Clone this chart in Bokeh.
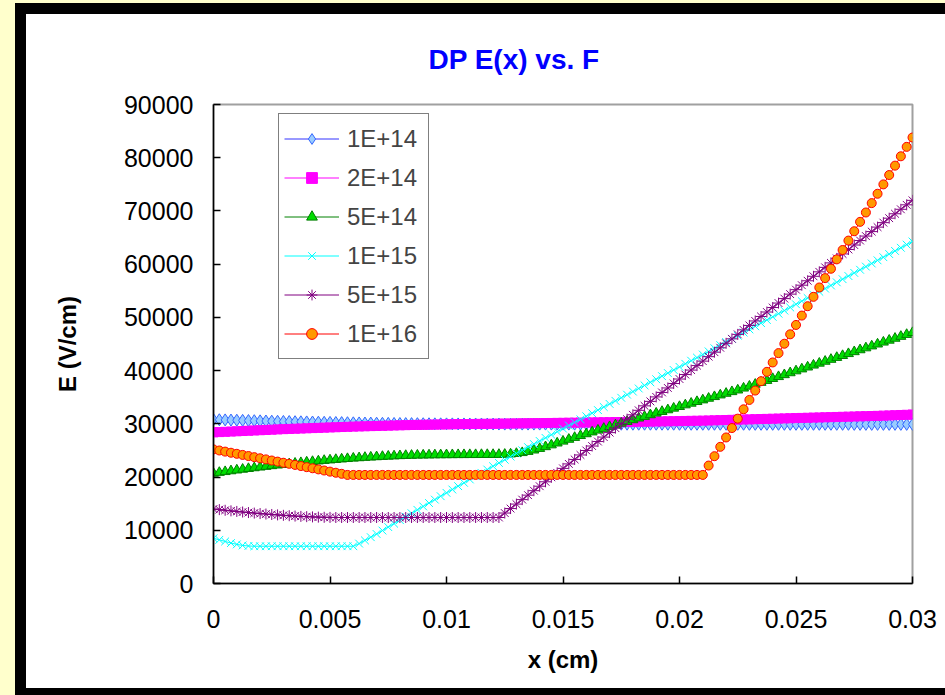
from bokeh.plotting import figure
from bokeh.layouts import row, column
from bokeh.models import Div, FixedTicker, NumeralTickFormatter, Range1d
from bokeh.embed import file_html
from bokeh.resources import INLINE

# Electric field E(x) across the detector thickness for six fluences
x_step = 0.00025          # cm between samples
n_points = 121
x_cm = [round(i * x_step, 5) for i in range(n_points)]

fluence_labels = ["1E+14", "2E+14", "5E+14", "1E+15", "5E+15", "1E+16"]

e_1e14 = [
    30800, 30770, 30740, 30710, 30680, 30650, 30620, 30590, 30560, 30530,
    30500, 30480, 30450, 30430, 30400, 30380, 30360, 30340, 30310, 30290,
    30270, 30250, 30230, 30210, 30190, 30170, 30150, 30140, 30120, 30100,
    30090, 30070, 30060, 30050, 30040, 30030, 30020, 30010, 30000, 30000,
    29990, 29990, 29980, 29980, 29970, 29970, 29970, 29960, 29960, 29960,
    29950, 29950, 29950, 29950, 29950, 29950, 29950, 29950, 29950, 29950,
    29950, 29950, 29940, 29940, 29940, 29940, 29940, 29930, 29930, 29930,
    29930, 29930, 29930, 29930, 29930, 29930, 29930, 29930, 29930, 29930,
    29920, 29920, 29920, 29920, 29920, 29920, 29920, 29920, 29920, 29920,
    29920, 29920, 29910, 29910, 29910, 29910, 29910, 29910, 29910, 29910,
    29910, 29910, 29910, 29910, 29910, 29910, 29910, 29910, 29910, 29910,
    29900, 29900, 29900, 29900, 29900, 29900, 29900, 29900, 29900, 29900,
    29900,
]

e_2e14 = [
    28400, 28450, 28500, 28550, 28600, 28650, 28700, 28750, 28800, 28850,
    28900, 28950, 29000, 29040, 29080, 29120, 29160, 29200, 29240, 29280,
    29320, 29360, 29400, 29440, 29480, 29510, 29540, 29570, 29600, 29630,
    29660, 29690, 29720, 29750, 29780, 29800, 29820, 29840, 29860, 29880,
    29900, 29920, 29940, 29950, 29960, 29980, 29990, 30000, 30010, 30030,
    30040, 30060, 30070, 30090, 30100, 30120, 30130, 30150, 30160, 30180,
    30190, 30210, 30220, 30240, 30250, 30270, 30280, 30300, 30310, 30330,
    30340, 30360, 30370, 30390, 30400, 30420, 30440, 30460, 30480, 30500,
    30520, 30540, 30560, 30580, 30600, 30630, 30660, 30690, 30720, 30750,
    30780, 30810, 30840, 30870, 30900, 30930, 30960, 30990, 31020, 31050,
    31080, 31110, 31140, 31170, 31200, 31230, 31260, 31290, 31320, 31350,
    31380, 31410, 31440, 31470, 31500, 31540, 31580, 31620, 31660, 31700,
    31750,
]

e_5e14 = [
    20700, 20860, 21010, 21160, 21310, 21450, 21590, 21730, 21860, 21990,
    22120, 22240, 22360, 22480, 22590, 22700, 22810, 22910, 23010, 23110,
    23200, 23290, 23380, 23460, 23540, 23610, 23680, 23740, 23800, 23860,
    23910, 23960, 24000, 24040, 24070, 24100, 24120, 24140, 24160, 24170,
    24180, 24190, 24200, 24200, 24210, 24210, 24220, 24220, 24230, 24240,
    24260, 24320, 24420, 24580, 24800, 25060, 25360, 25690, 26030, 26380,
    26730, 27080, 27430, 27780, 28120, 28460, 28800, 29130, 29460, 29790,
    30110, 30430, 30750, 31070, 31380, 31690, 32000, 32310, 32620, 32930,
    33240, 33550, 33860, 34170, 34480, 34790, 35100, 35410, 35720, 36030,
    36340, 36700, 37060, 37420, 37780, 38140, 38500, 38860, 39220, 39580,
    39940, 40300, 40660, 41020, 41380, 41740, 42100, 42460, 42820, 43180,
    43540, 43900, 44260, 44620, 44980, 45340, 45700, 46060, 46420, 46780,
    47140,
]

e_1e15 = [
    8500, 8200, 7900, 7600, 7350, 7150, 7050, 7000, 7000, 7000,
    7000, 7000, 7000, 7000, 7000, 7000, 7000, 7000, 7000, 7000,
    7000, 7000, 7000, 7000, 7000, 7500, 8100, 8700, 9300, 9950,
    10600, 11250, 11900, 12550, 13200, 13840, 14480, 15120, 15760, 16400,
    17030, 17660, 18290, 18920, 19550, 20170, 20790, 21410, 22030, 22650,
    23250, 23850, 24440, 25030, 25620, 26200, 26780, 27360, 27940, 28520,
    29100, 29680, 30260, 30840, 31420, 32000, 32580, 33160, 33740, 34320,
    34900, 35480, 36060, 36640, 37220, 37800, 38380, 38960, 39540, 40120,
    40700, 41280, 41860, 42440, 43020, 43610, 44200, 44790, 45380, 45970,
    46560, 47150, 47740, 48330, 48920, 49510, 50100, 50690, 51280, 51870,
    52460, 53050, 53640, 54230, 54820, 55410, 56000, 56590, 57180, 57770,
    58360, 58950, 59540, 60130, 60720, 61310, 61900, 62490, 63080, 63670,
    64260,
]

e_5e15 = [
    14000, 13880, 13760, 13650, 13540, 13430, 13330, 13230, 13140, 13050,
    12970, 12890, 12810, 12740, 12670, 12610, 12560, 12510, 12470, 12440,
    12420, 12400, 12400, 12400, 12400, 12400, 12400, 12400, 12400, 12400,
    12400, 12400, 12400, 12400, 12400, 12400, 12400, 12400, 12400, 12400,
    12400, 12400, 12400, 12400, 12400, 12400, 12400, 12400, 12400, 12400,
    13240, 14080, 14920, 15760, 16600, 17440, 18280, 19110, 19950, 20790,
    21630, 22470, 23310, 24150, 24990, 25830, 26670, 27510, 28350, 29190,
    30030, 30870, 31700, 32540, 33380, 34220, 35060, 35900, 36740, 37580,
    38420, 39260, 40100, 40940, 41780, 42620, 43460, 44290, 45130, 45970,
    46810, 47650, 48490, 49330, 50170, 51010, 51850, 52690, 53530, 54370,
    55210, 56050, 56880, 57720, 58560, 59400, 60240, 61080, 61920, 62760,
    63600, 64440, 65280, 66120, 66960, 67800, 68640, 69470, 70310, 71150,
    71990,
]

e_1e16 = [
    25200, 24990, 24780, 24570, 24370, 24160, 23950, 23740, 23530, 23320,
    23110, 22900, 22690, 22490, 22280, 22070, 21860, 21650, 21440, 21230,
    21020, 20810, 20610, 20400, 20400, 20400, 20400, 20400, 20400, 20400,
    20400, 20400, 20400, 20400, 20400, 20400, 20400, 20400, 20400, 20400,
    20400, 20400, 20400, 20400, 20400, 20400, 20400, 20400, 20400, 20400,
    20400, 20400, 20400, 20400, 20400, 20400, 20400, 20400, 20400, 20400,
    20400, 20400, 20400, 20400, 20400, 20400, 20400, 20400, 20400, 20400,
    20400, 20400, 20400, 20400, 20400, 20400, 20400, 20400, 20400, 20400,
    20400, 20400, 20400, 20400, 20400, 22160, 23920, 25680, 27440, 29210,
    30970, 32730, 34490, 36250, 38010, 39770, 41530, 43290, 45050, 46820,
    48580, 50340, 52100, 53860, 55620, 57380, 59140, 60900, 62660, 64430,
    66190, 67950, 69710, 71470, 73230, 74990, 76750, 78510, 80270, 82040,
    83800,
]

x_ticks = [0, 0.005, 0.01, 0.015, 0.02, 0.025, 0.03]
y_ticks = [0, 10000, 20000, 30000, 40000, 50000, 60000, 70000, 80000, 90000]

series = [e_1e14, e_2e14, e_5e14, e_1e15, e_5e15, e_1e16]
line_colors = ["#3333FF", "#FF00FF", "#008000", "#00FFFF", "#800080", "#FF0000"]
markers = ["diamond", "square", "triangle", "x", "asterisk", "circle"]
marker_fill = ["#99CCFF", "#FF00FF", "#00DD00", "#00FFFF", "#800080", "#FF9900"]
marker_line = ["#3366FF", "#FF00FF", "#008000", "#00FFFF", "#800080", "#FF0000"]
marker_size = [12, 9, 10, 11, 11, 9]

FONT = "Liberation Sans"

# page: yellow margin, black sheet edge, then the white chart sheet
PAGE_W, PAGE_H = 945, 695
YELLOW_L, YELLOW_T = 15, 3
EDGE_L, EDGE_T, EDGE_B = 11, 11, 7
W = PAGE_W - YELLOW_L - EDGE_L               # 919
H = PAGE_H - YELLOW_T - EDGE_T - EDGE_B      # 674
FL, FR, FT, FB = 187, 886, 90, 569           # plot frame edges inside the sheet

p = figure(width=W, height=H, output_backend="svg", toolbar_location=None,
           x_range=Range1d(0, 0.03), y_range=Range1d(0, 90000),
           min_border_left=FL, min_border_right=W - FR,
           min_border_top=FT, min_border_bottom=H - FB)

p.background_fill_color = "white"
p.border_fill_color = "white"
p.outline_line_color = "#A0A0A0"
p.outline_line_width = 2
p.xgrid.visible = False
p.ygrid.visible = False

p.title.text = "DP E(x) vs. F"
p.title.text_color = "#0000FF"
p.title.text_font = FONT
p.title.text_font_size = "28px"
p.title.text_font_style = "bold"
p.title.align = "left"
p.title.offset = 215
p.title.vertical_align = "top"
p.title.standoff = 55

for ax in (p.xaxis[0], p.yaxis[0]):
    ax.axis_line_color = "black"
    ax.axis_line_width = 1.5
    ax.major_tick_line_color = "black"
    ax.major_tick_line_width = 1.5
    ax.major_tick_in = 7
    ax.major_tick_out = 0
    ax.minor_tick_line_color = None
    ax.major_label_text_font = FONT
    ax.major_label_text_font_size = "25px"
    ax.major_label_text_color = "black"
    ax.axis_label_text_font = FONT
    ax.axis_label_text_font_size = "24px"
    ax.axis_label_text_font_style = "bold"
    ax.axis_label_text_color = "black"

p.xaxis.axis_label = "x (cm)"
p.xaxis.ticker = FixedTicker(ticks=x_ticks)
p.xaxis.formatter = NumeralTickFormatter(format="0.[000]")
p.xaxis.major_label_standoff = 26
p.xaxis.axis_label_standoff = 15

p.yaxis.axis_label = "E (V/cm)"
p.yaxis.ticker = FixedTicker(ticks=y_ticks)
p.yaxis.formatter = NumeralTickFormatter(format="0")
p.yaxis.major_label_standoff = 20
p.yaxis.axis_label_standoff = 40

for ys, lab, lc, mk, mf, ml, ms in zip(series, fluence_labels, line_colors,
                                        markers, marker_fill, marker_line, marker_size):
    p.line(x_cm, ys, line_color=lc, line_width=1, legend_label=lab)
    p.scatter(x_cm, ys, marker=mk, size=ms, fill_color=mf, line_color=ml,
              line_width=1, legend_label=lab)

leg = p.legend[0]
leg.location = (65, 224)
leg.margin = 0
leg.padding = 5
leg.spacing = 0
leg.glyph_width = 55
leg.glyph_height = 27
leg.label_height = 39
leg.label_width = 76
leg.label_standoff = 8
leg.label_text_font = FONT
leg.label_text_font_size = "24px"
leg.border_line_color = "black"
leg.border_line_width = 1
leg.background_fill_color = "white"
leg.background_fill_alpha = 1


def block(w, h, color):
    return Div(text="", width=w, height=h, margin=0,
               styles={"background-color": color})


sheet = column(block(W, EDGE_T, "black"), p, block(W, EDGE_B, "black"), spacing=0)
edged = row(block(EDGE_L, PAGE_H - YELLOW_T, "black"), sheet, spacing=0)
right = column(block(PAGE_W - YELLOW_L, YELLOW_T, "#FFFFCC"), edged, spacing=0)
page = row(block(YELLOW_L, PAGE_H, "#FFFFCC"), right, spacing=0)

open("out.html", "w").write(file_html(page, INLINE))
